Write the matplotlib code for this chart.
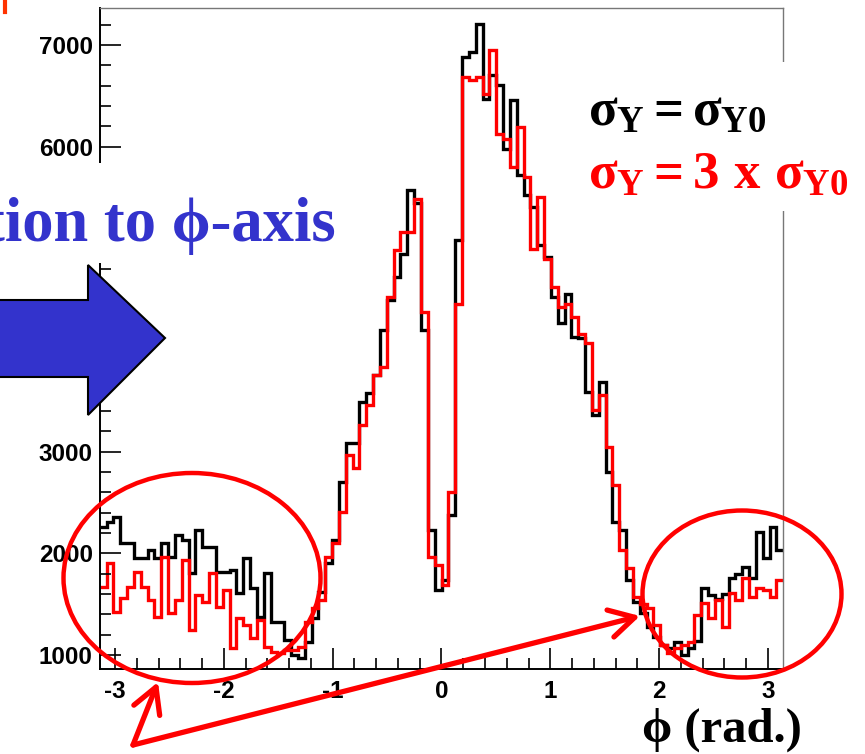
import numpy as np
import matplotlib
matplotlib.use("Agg")
import matplotlib.pyplot as plt
from matplotlib.ticker import MultipleLocator
from matplotlib.patches import Ellipse, Polygon, Rectangle, FancyArrowPatch

# histogram contents, 100 bins over [-pi, pi]
n_bins = 100
phi_min, phi_max = -np.pi, np.pi

counts_sigma0 = [2261, 2310, 2360, 2098, 2098, 1950, 1950, 2032, 1950, 2098,
                 1967, 2180, 2130, 1803, 2229, 2065, 2065, 1819, 1819, 1835,
                 1606, 1950, 1655, 1377, 1803, 1327, 1327, 1150, 1000, 967,
                 1131, 1360, 1622, 1901, 2130, 2704, 3081, 3081, 3490, 3573,
                 3752, 4195, 4490, 4719, 4949, 5570, 5450, 4195, 2229, 1639,
                 1740, 2376, 5080, 6881, 6930, 7209, 6472, 6701, 6603, 5981,
                 6456, 5718, 5521, 5407, 5030, 4915, 4522, 4261, 4555, 4129,
                 4120, 3588, 3359, 3687, 2802, 2310, 2229, 1737, 1524, 1410,
                 1278, 1180, 1098, 1066, 1131, 1000, 1066, 1140, 1655, 1590,
                 1550, 1600, 1760, 1800, 1868, 1754, 2212, 1950, 2261, 2032]

counts_sigma3 = [1672, 1901, 1426, 1557, 1672, 1819, 1672, 1541, 1377, 1967,
                 1410, 1541, 1934, 1246, 1590, 1524, 1803, 1475, 1639, 1066,
                 1360, 1295, 1164, 1344, 1082, 1033, 1017, 1050, 1050, 1082,
                 1327, 1459, 1541, 1967, 2098, 2409, 2966, 2835, 3261, 3458,
                 3752, 3834, 4523, 4982, 5161, 5161, 5489, 4375, 1967, 1885,
                 1688, 2605, 4457, 6685, 6652, 6685, 6521, 6947, 6128, 6079,
                 5800, 6193, 5702, 4997, 5505, 4899, 4620, 4424, 4457, 4326,
                 4162, 4064, 3408, 3556, 3048, 2671, 2032, 1852, 1573, 1500,
                 1459, 1295, 1098, 1017, 1066, 1098, 1131, 1393, 1508, 1360,
                 1541, 1278, 1606, 1541, 1754, 1573, 1655, 1639, 1573, 1737]

y_min, y_max = 862, 7364
x_ticks = [-3, -2, -1, 0, 1, 2, 3]
y_ticks = [1000, 2000, 3000, 4000, 5000, 6000, 7000]
# 4000 and 5000 sit under the slide overlays, so their labels are not shown
y_ticklabels = ['1000', '2000', '3000', '', '', '6000', '7000']

plt.rcParams['axes.unicode_minus'] = False
plt.rcParams['mathtext.fontset'] = 'custom'
plt.rcParams['mathtext.rm'] = 'Liberation Serif:bold'
plt.rcParams['mathtext.it'] = 'Liberation Serif:bold'
plt.rcParams['mathtext.bf'] = 'Liberation Serif:bold'

W, H = 865, 754
fig = plt.figure(figsize=(W / 100, H / 100), dpi=100)


def fx(x):
    return x / W


def fy(y):
    return 1 - y / H


ax = fig.add_axes([fx(99.7), fy(669), fx(783.3) - fx(99.7), fy(8) - fy(669)])

edges = np.linspace(phi_min, phi_max, n_bins + 1)
ax.stairs(counts_sigma0, edges, baseline=None, color='black', lw=2.4)
ax.stairs(counts_sigma3, edges, baseline=None, color='red', lw=2.4)

ax.set_xlim(phi_min, phi_max)
ax.set_ylim(y_min, y_max)
ax.set_xticks(x_ticks)
ax.set_yticks(y_ticks)
ax.set_yticklabels(y_ticklabels)
ax.xaxis.set_minor_locator(MultipleLocator(0.2))
ax.yaxis.set_minor_locator(MultipleLocator(200))
ax.tick_params(which='both', direction='in', top=False, right=False, width=1.2)
ax.tick_params(which='major', length=15)
ax.tick_params(which='minor', length=8)
ax.tick_params(axis='y', pad=5)
ax.tick_params(axis='x', pad=8)
for lab in ax.get_xticklabels() + ax.get_yticklabels():
    lab.set_fontfamily('Liberation Sans')
    lab.set_fontweight('bold')
    lab.set_fontsize(17.5)
for s in ['left', 'bottom']:
    ax.spines[s].set_linewidth(1.4)
for s in ['top', 'right']:
    ax.spines[s].set_color('#777777')
    ax.spines[s].set_linewidth(1.0)

blue = '#3333cc'
serif = ['Liberation Serif', 'DejaVu Serif']

# small mark left over at the top-left corner of the slide
fig.add_artist(plt.Line2D([fx(5), fx(5)], [fy(0), fy(12)], transform=fig.transFigure,
                          color='#ff3300', lw=3))

# white box behind the blue caption
fig.add_artist(Rectangle((fx(0), fy(263)), fx(342), fy(163) - fy(263),
                         transform=fig.transFigure, facecolor='white', edgecolor='none'))
fig.text(fx(336), fy(241), 'tion to \u03d5-axis', ha='right', va='baseline',
         color=blue, fontsize=45, fontweight='bold', family=serif)

# big blue arrow
arrow_pts = [(-5, 300), (88, 300), (88, 265), (165, 338), (88, 415), (88, 377), (-5, 377)]
fig.add_artist(Polygon([(fx(x), fy(y)) for x, y in arrow_pts], closed=True,
                       transform=fig.transFigure, facecolor=blue,
                       edgecolor='black', lw=1.5))

# legend box
fig.add_artist(Rectangle((fx(578), fy(211)), fx(300), fy(62) - fy(211),
                         transform=fig.transFigure, facecolor='white', edgecolor='none'))
fig.text(fx(588), fy(125), r'$\sigma_{Y} = \sigma_{Y0}$', color='black',
         fontsize=38, va='baseline', ha='left')
fig.text(fx(588), fy(188), r'$\sigma_{Y} = 3\ x\ \sigma_{Y0}$', color='red',
         fontsize=38, va='baseline', ha='left')

# axis title
fig.text(fx(802), fy(742), '\u03d5 (rad.)', ha='right', va='baseline',
         fontsize=35, fontweight='bold', family=serif, color='black')

# red ellipses
fig.add_artist(Ellipse((fx(192), fy(578)), fx(257), fy(0) - fy(210),
                       transform=fig.transFigure, fill=False, edgecolor='red', lw=3.2))
fig.add_artist(Ellipse((fx(742), fy(594)), fx(199), fy(0) - fy(167),
                       transform=fig.transFigure, fill=False, edgecolor='red', lw=3.2))

# red pointer arrows
apex = (133, 745)
for tip in [(158, 682), (640, 616)]:
    fig.add_artist(FancyArrowPatch((fx(apex[0]), fy(apex[1])), (fx(tip[0]), fy(tip[1])),
                                   transform=fig.transFigure,
                                   arrowstyle='->,head_length=0.9,head_width=0.5',
                                   mutation_scale=20, color='red', lw=3.8,
                                   shrinkA=0, shrinkB=0))

fig.savefig('out.png', dpi=100)
